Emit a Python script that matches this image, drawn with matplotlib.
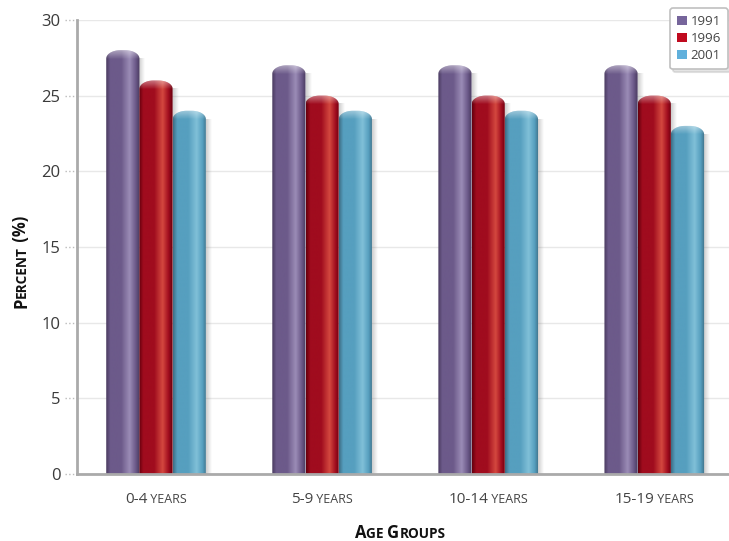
import numpy as np
import matplotlib
matplotlib.use('Agg')
import matplotlib.pyplot as plt
from matplotlib.path import Path
from matplotlib.patches import PathPatch, Patch
from matplotlib.colors import LinearSegmentedColormap
import matplotlib.transforms as mtrans

# ---------------- data ----------------
categories = ['0-4', '5-9', '10-14', '15-19']
series_names = ['1991', '1996', '2001']
v1991 = [28, 27, 27, 27]
v1996 = [26, 25, 25, 25]
v2001 = [24, 24, 24, 23]
yticks = [0, 5, 10, 15, 20, 25, 30]

FONT = 'Open Sans'
plt.rcParams['font.family'] = [FONT, 'DejaVu Sans']

W, H = 729, 541
fig = plt.figure(figsize=(W / 100, H / 100), dpi=100)
ax = fig.add_axes([77 / W, 67 / H, 652 / W, 454 / H])

series = [v1991, v1996, v2001]
# (dark, mid, light) shading per series
shades = [
    ('#4a3b60', '#6c5a8a', '#9b8cb6'),
    ('#66000e', '#a00c1e', '#d4483f'),
    ('#3e6f86', '#569fbf', '#80c0d8'),
]
legend_colors = ['#76659b', '#c00a1f', '#60b0dc']

x = np.arange(len(categories))
bw = 0.2
offsets = [-bw, 0, bw]

ax.set_xlim(-0.476, 3.45)
ax.set_ylim(0, 30)


def bar_cmap(d, m, l):
    return LinearSegmentedColormap.from_list(
        'c', [(0, d), (0.12, m), (0.45, m), (0.7, l), (0.88, m), (1, d)])


grad = np.linspace(0, 1, 64).reshape(1, -1)
for si, vals in enumerate(series):
    bars = ax.bar(x + offsets[si], vals, width=bw, align='center')
    cmap = bar_cmap(*shades[si])
    for rect in bars:
        rect.set_visible(False)
        x0 = rect.get_x(); w = rect.get_width(); h = rect.get_height()
        rx = w * 0.42; ry = 0.55
        th1 = np.linspace(np.pi, np.pi / 2, 20)
        th2 = np.linspace(np.pi / 2, 0, 20)
        pts = [(x0, 0), (x0, h - ry)]
        pts += [(x0 + rx + rx * np.cos(t), h - ry + ry * np.sin(t)) for t in th1]
        pts += [(x0 + w - rx + rx * np.cos(t), h - ry + ry * np.sin(t)) for t in th2]
        pts += [(x0 + w, 0), (x0, 0)]
        path = Path(pts)
        patch = PathPatch(path, facecolor='none', edgecolor='none', zorder=3)
        ax.add_patch(patch)
        # shadow on the right
        sh = np.zeros((1, 32, 4))
        sh[..., :3] = 0.45
        sh[0, :, 3] = np.linspace(0.35, 0.0, 32)
        ax.imshow(sh, extent=(x0 + w, x0 + w + 0.035, 0, h - ry), aspect='auto',
                  zorder=2 + si * 0.1, interpolation='bilinear')
        im = ax.imshow(grad, extent=(x0, x0 + w, 0, h), aspect='auto', cmap=cmap,
                       zorder=3 + si * 0.1, interpolation='bilinear')
        im.set_clip_path(patch)
        # top highlight
        hl = np.ones((32, 1, 4))
        hl[:, 0, 3] = np.concatenate([np.linspace(0.45, 0.0, 16), np.zeros(16)])
        im2 = ax.imshow(hl, extent=(x0, x0 + w, h - 2.2 * ry, h), aspect='auto',
                        zorder=3.05 + si * 0.1, interpolation='bilinear')
        im2.set_clip_path(patch)

ax.set_xlim(-0.476, 3.45)
ax.set_ylim(0, 30)

# axes styling
for s in ['top', 'right']:
    ax.spines[s].set_visible(False)
for s in ['left', 'bottom']:
    ax.spines[s].set_color('#aaaaaa')
    ax.spines[s].set_linewidth(2)
    ax.spines[s].set_zorder(5)
ax.set_axisbelow(True)
ax.set_yticks(yticks)
ax.yaxis.grid(True, color='#e8e8e8', lw=1, zorder=0)
ax.tick_params(axis='y', length=0, pad=12, labelsize=12, labelcolor='#3a3a3a')
ax.set_xticks(x)
ax.set_xticklabels([''] * len(x))
ax.tick_params(axis='x', length=0)

blend = mtrans.blended_transform_factory(ax.transAxes, ax.transData)
for yv in yticks:
    ax.plot([-0.018, 0], [yv, yv], transform=blend, ls=':', color='#bbbbbb',
            lw=1, clip_on=False)

renderer = fig.canvas.get_renderer()


def measure(s, size, weight):
    t = fig.text(0, 0, s, size=size, weight=weight)
    bb = t.get_window_extent(renderer)
    t.remove()
    return bb.width


def smallcaps(cx, cy, parts, color='#333333', weight='normal', rotation=0):
    """cx, cy in pixel coords from top-left; parts list of (text, size)."""
    widths = [measure(s, sz, weight) for s, sz in parts]
    total = sum(widths)
    pos = -total / 2
    for (s, sz), wd in zip(parts, widths):
        if rotation == 0:
            px, py = cx + pos, cy
        else:
            px, py = cx, cy - pos
        fig.text(px / W, 1 - py / H, s, size=sz, weight=weight, color=color,
                 ha='left', va='baseline', rotation=rotation,
                 rotation_mode='anchor')
        pos += wd


# x tick labels (small caps)
xt_pix = [ax.transData.transform((xi, 0))[0] for xi in x]
for cat, px in zip(categories, xt_pix):
    smallcaps(px, 503, [(cat, 11), (' YEARS', 9)], color='#444444')

# axis titles
smallcaps(400, 538, [('A', 12), ('GE ', 9.8), ('G', 12), ('ROUPS', 9.8)],
          color='#111111', weight='bold')
smallcaps(26, 262, [('P', 12), ('ERCENT', 9.8), (' (%)', 12)],
          color='#111111', weight='bold', rotation=90)

handles = [Patch(facecolor=c, edgecolor='none', label=n)
           for c, n in zip(legend_colors, series_names)]
leg = fig.legend(handles=handles, loc='upper right',
                 bbox_to_anchor=(728 / W, 1 - 8 / H), fontsize=9.5,
                 frameon=True, fancybox=True, shadow={'alpha': 0.15, 'ox': 2, 'oy': -2},
                 edgecolor='#c0c0c0', framealpha=1,
                 handlelength=0.75, handleheight=0.75, handletextpad=0.25,
                 borderpad=0.55, labelspacing=0.3, labelcolor='#444444',
                 borderaxespad=0)
leg.get_frame().set_linewidth(1.2)

fig.savefig('out.png', dpi=100)
